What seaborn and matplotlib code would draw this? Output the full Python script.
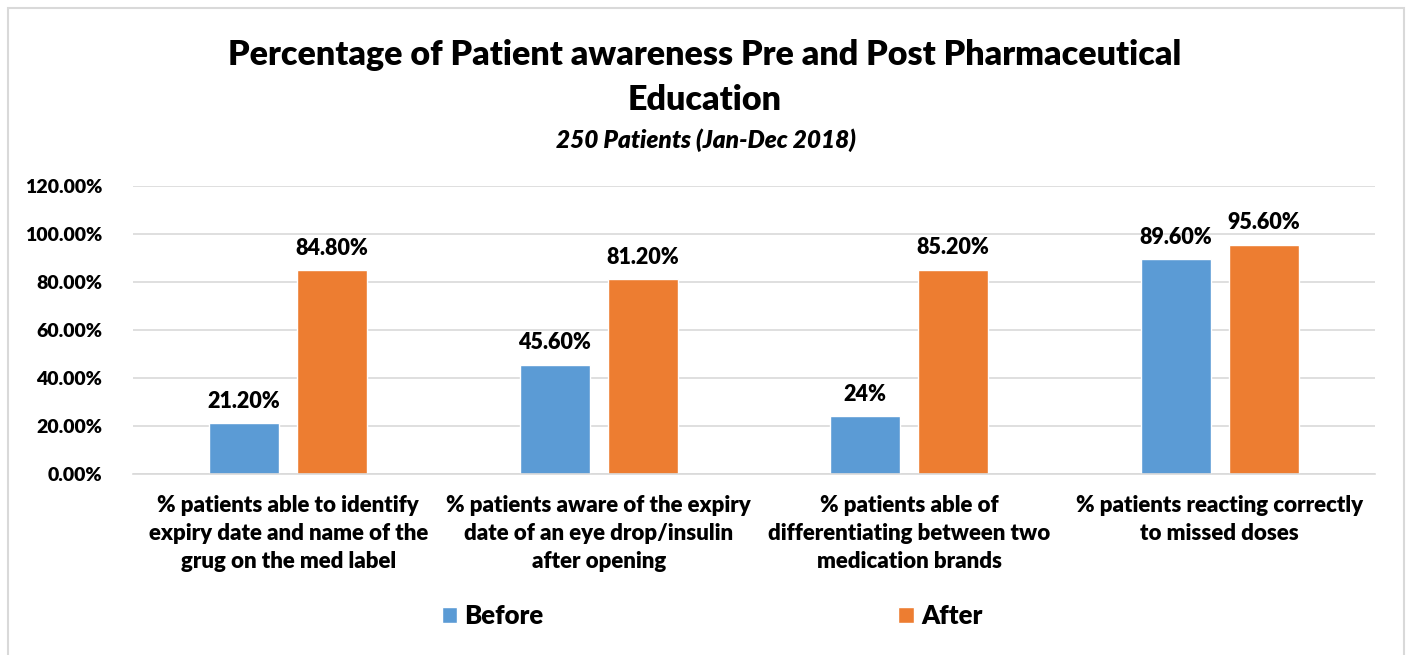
import pandas as pd
import matplotlib.pyplot as plt
import seaborn as sns
from matplotlib.patches import Rectangle
from matplotlib.ticker import FuncFormatter

categories = [
    "% patients able to identify\nexpiry date and name of the\ngrug on the med label",
    "% patients aware of the expiry\ndate of an eye drop/insulin\nafter opening",
    "% patients able of\ndifferentiating between two\nmedication brands",
    "% patients reacting correctly\nto missed doses",
]
before = [0.212, 0.456, 0.24, 0.896]
after = [0.848, 0.812, 0.852, 0.956]
before_labels = ["21.20%", "45.60%", "24%", "89.60%"]
after_labels = ["84.80%", "81.20%", "85.20%", "95.60%"]

df = pd.DataFrame({
    "category": categories * 2,
    "value": before + after,
    "period": ["Before"] * 4 + ["After"] * 4,
})

sns.set_style("white")
plt.rcParams['font.family'] = ['Lato', 'DejaVu Sans']
plt.rcParams['font.weight'] = 'bold'
plt.rcParams['text.color'] = 'black'
plt.rcParams['xtick.color'] = 'black'
plt.rcParams['ytick.color'] = 'black'
W = 'heavy'

fig = plt.figure(figsize=(14.1, 6.55), dpi=100)
# chart border (bottom edge runs off the image like in the screenshot)
fig.patches.append(Rectangle((8 / 1410, -0.02), 1396 / 1410, 1.02 - 8 / 655,
                             transform=fig.transFigure, fill=False,
                             edgecolor='#D9D9D9', linewidth=1.5))

ax = fig.add_axes([133 / 1410, 1 - 474 / 655, 1242 / 1410, 288 / 655])
sns.barplot(data=df, x="category", y="value", hue="period",
            palette={"Before": "#5B9BD5", "After": "#ED7D31"}, saturation=1,
            width=0.567, gap=0.205, ax=ax, legend=True)

ax.set_ylim(0, 1.2)
ax.set_yticks([0, 0.2, 0.4, 0.6, 0.8, 1.0, 1.2])
ax.yaxis.set_major_formatter(FuncFormatter(lambda v, p: f"{v * 100:.2f}%"))
ax.grid(axis='y', color='#D9D9D9', linewidth=1.2)
ax.set_axisbelow(True)
for s in ['top', 'right', 'left']:
    ax.spines[s].set_visible(False)
ax.spines['bottom'].set_color('#D9D9D9')
ax.spines['bottom'].set_linewidth(1.2)
ax.tick_params(axis='both', length=0)
ax.tick_params(axis='y', pad=22, labelsize=14)
ax.tick_params(axis='x', pad=15, labelsize=16)
for t in ax.get_xticklabels():
    t.set_fontweight(W)
    t.set_linespacing(1.42)
for t in ax.get_yticklabels():
    t.set_fontweight(W)
ax.set_xlabel("")
ax.set_ylabel("")

ax.bar_label(ax.containers[0], labels=before_labels, padding=8, fontsize=15.5, fontweight=W)
ax.bar_label(ax.containers[1], labels=after_labels, padding=8, fontsize=15.5, fontweight=W)

ax.legend(loc='center', bbox_to_anchor=(712 / 1410, 1 - 616 / 655), bbox_transform=fig.transFigure,
          ncol=2, frameon=False, prop={'size': 18.5, 'weight': W},
          handlelength=0.62, handleheight=0.62, handletextpad=0.27, columnspacing=13.8)

fig.text(0.5, 1 - 55 / 655, "Percentage of Patient awareness Pre and Post Pharmaceutical",
         ha='center', va='center', fontsize=24.5, fontweight=W)
fig.text(0.5, 1 - 100 / 655, "Education", ha='center', va='center', fontsize=24.5, fontweight=W)
fig.text(706 / 1410, 1 - 140 / 655, "250 Patients (Jan-Dec 2018)", ha='center', va='center',
         fontsize=17.6, fontweight=W, style='italic')

fig.savefig("out.png", dpi=100)
